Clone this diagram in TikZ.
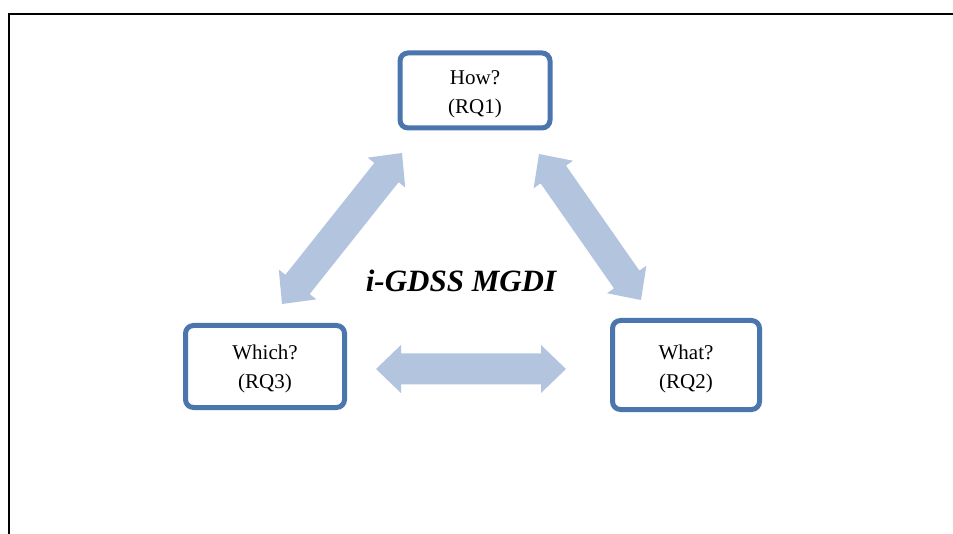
\documentclass[tikz,border=0pt]{standalone}
\usepackage{fontspec}
\setmainfont{Liberation Serif}
\usetikzlibrary{calc}
\definecolor{boxblue}{RGB}{74,117,173}
\definecolor{arrowblue}{RGB}{179,196,222}
\tikzset{
  rq/.style={draw=boxblue, line width=5pt, rounded corners=8pt, fill=white, inner sep=0pt},
  rqtext/.style={align=center, inner sep=0pt, font=\fontsize{21}{29}\selectfont},
  arrowfill/.style={fill=arrowblue, draw=none},
  frameline/.style={line width=1.8pt, draw=black},
  titletext/.style={font=\fontsize{31}{36}\selectfont\bfseries\itshape, inner sep=0pt, anchor=base}
}
% block double arrow between two named coordinates
\newcommand{\blockarrow}[2]{%
  \coordinate (#1h) at ($(#1)!25pt!(#2)$);
  \coordinate (#2h) at ($(#2)!25pt!(#1)$);
  \fill[arrowfill] (#1)
    -- ($(#1h)!24pt!90:(#2)$) -- ($(#1h)!15.5pt!90:(#2)$)
    -- ($(#2h)!15.5pt!-90:(#1)$) -- ($(#2h)!24pt!-90:(#1)$)
    -- (#2)
    -- ($(#2h)!24pt!90:(#1)$) -- ($(#2h)!15.5pt!90:(#1)$)
    -- ($(#1h)!15.5pt!-90:(#2)$) -- ($(#1h)!24pt!-90:(#2)$)
    -- cycle;
}
\begin{document}
\begin{tikzpicture}[x=1pt,y=-1pt]
\useasboundingbox (0,0) rectangle (953,534);
% frame
\coordinate (ftr) at (953,14);
\coordinate (ftl) at (9,14);
\coordinate (fbl) at (9,534);
\draw[frameline] (ftr) -- (ftl) -- (fbl);
% boxes
\node[rq, minimum width=150pt, minimum height=75pt] (q1) at (475,90.5) {};
\node[rq, minimum width=159pt, minimum height=82pt] (q3) at (265,366.5) {};
\node[rq, minimum width=147pt, minimum height=89pt] (q2) at (686,365) {};
\node[rqtext] (q1t) at (475,94) {How?\\(RQ1)};
\node[rqtext] (q3t) at (265,369) {Which?\\(RQ3)};
\node[rqtext] (q2t) at (686,369) {What?\\(RQ2)};
% arrows
\coordinate (la) at (402,153);
\coordinate (lb) at (282,304);
\coordinate (ra) at (539,154);
\coordinate (rb) at (641,300);
\coordinate (ha) at (376,369);
\coordinate (hb) at (566,369);
\blockarrow{la}{lb}
\blockarrow{ra}{rb}
\blockarrow{ha}{hb}
% title
\node[titletext] (title) at (461,292) {i-GDSS MGDI};
\end{tikzpicture}
\end{document}
